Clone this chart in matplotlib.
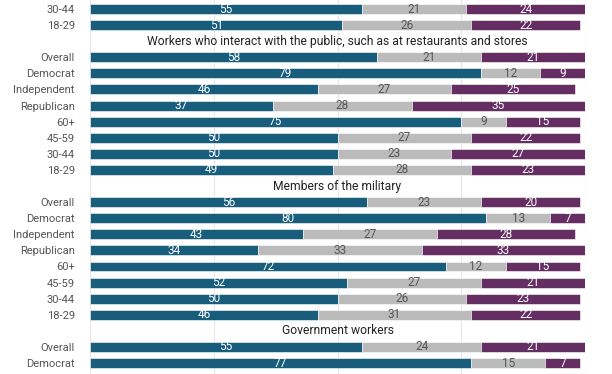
import numpy as np
import matplotlib.pyplot as plt

plt.rcParams['font.family'] = ['Roboto', 'DejaVu Sans']

# grupo do topo (cortado na imagem)
top_labels = ['30-44', '18-29']
top_blue = [55, 51]
top_gray = [21, 26]
top_purple = [24, 22]

grp_labels = ['Overall', 'Democrat', 'Independent', 'Republican', '60+', '45-59', '30-44', '18-29']

pub_title = 'Workers who interact with the public, such as at restaurants and stores'
pub_blue = [58, 79, 46, 37, 75, 50, 50, 49]
pub_gray = [21, 12, 27, 28, 9, 27, 23, 28]
pub_purple = [21, 9, 25, 35, 15, 22, 27, 23]

mil_title = 'Members of the military'
mil_blue = [56, 80, 43, 34, 72, 52, 50, 46]
mil_gray = [23, 13, 27, 33, 12, 27, 26, 31]
mil_purple = [20, 7, 28, 33, 15, 21, 23, 22]

gov_title = 'Government workers'
gov_labels = ['Overall', 'Democrat']
gov_blue = [55, 77]
gov_gray = [24, 15]
gov_purple = [21, 7]

c_blue = '#185d7c'
c_gray = '#bbbbbb'
c_purple = '#642e62'

#montando as linhas (titulo ocupa uma linha)
rows = []
titles = []
for i in range(len(top_labels)):
    rows.append((top_labels[i], top_blue[i], top_gray[i], top_purple[i]))
for title, b, g, p in [(pub_title, pub_blue, pub_gray, pub_purple),
                       (mil_title, mil_blue, mil_gray, mil_purple)]:
    titles.append((len(rows), title))
    rows.append(None)
    for i in range(len(grp_labels)):
        rows.append((grp_labels[i], b[i], g[i], p[i]))
titles.append((len(rows), gov_title))
rows.append(None)
for i in range(len(gov_labels)):
    rows.append((gov_labels[i], gov_blue[i], gov_gray[i], gov_purple[i]))

fig = plt.figure(figsize=(6.12, 3.74), dpi=100)
ax = fig.add_axes([90/612, 0, 495/612, 1])

yticks = []
ylabels = []
for y, r in enumerate(rows):
    if r is None:
        continue
    lab, b, g, p = r
    yticks.append(y)
    ylabels.append(lab)
    ax.barh(y, b, height=0.62, color=c_blue, edgecolor='white', linewidth=0.4, zorder=2)
    ax.barh(y, g, left=b, height=0.62, color=c_gray, edgecolor='white', linewidth=0.4, zorder=2)
    ax.barh(y, p, left=b+g, height=0.62, color=c_purple, edgecolor='white', linewidth=0.4, zorder=2)
    ax.text(b/2, y, str(b), ha='center', va='center', color='white', fontsize=8.5, zorder=3)
    ax.text(b+g/2, y, str(g), ha='center', va='center', color='#555555', fontsize=8.5, zorder=3)
    ax.text(b+g+p/2, y, str(p), ha='center', va='center', color='white', fontsize=8.5, zorder=3)

for y, t in titles:
    ax.text(50, y, t, ha='center', va='center', color='#222222', fontsize=8.7, zorder=3)

# linha cortada no fim da imagem
yticks.append(len(rows) - 0.15)
ylabels.append('Independent')

ax.set_yticks(yticks)
ax.set_yticklabels(ylabels, fontsize=8.0, color='#555555')
ax.tick_params(axis='y', length=0, pad=11)
ax.set_xticks([0, 25, 50, 75, 100])
ax.tick_params(axis='x', length=0, labelbottom=False)
ax.grid(axis='x', color='#e6e6e6', linewidth=0.8, zorder=0)
ax.set_axisbelow(True)
ax.set_xlim(0, 100)
ax.set_ylim(22.68, -0.56)
for s in ax.spines.values():
    s.set_visible(False)

plt.savefig('out.png', dpi=100)
